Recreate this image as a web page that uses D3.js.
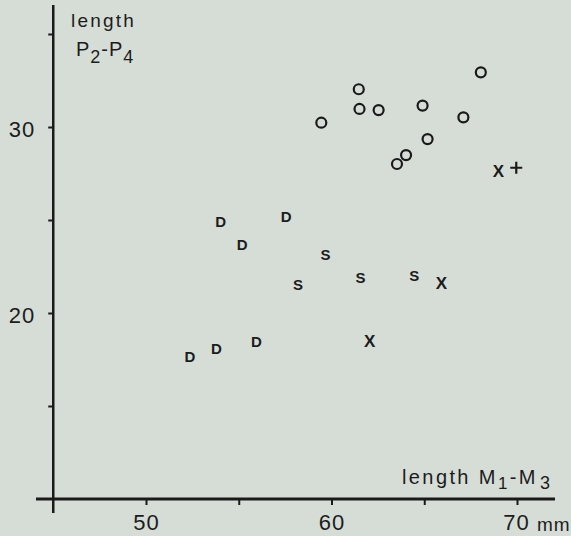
<!DOCTYPE html>
<html>
<head>
<meta charset="utf-8">
<script src="https://cdn.jsdelivr.net/npm/d3@7"></script>
<style>
  html, body { margin: 0; padding: 0; background: #d6ddd7; }
  svg { display: block; }
  text { font-family: "Liberation Sans", Arial, sans-serif; fill: #1c1c1c; }
</style>
</head>
<body>
<svg id="chart" width="571" height="536"></svg>
<script>
// ---- data (length M1-M3 in mm, length P2-P4 in mm) ----
const circleX = [68.05, 61.47, 61.51, 62.54, 59.45, 64.91, 67.11, 65.18, 64.02, 63.53];
const circleY = [32.94, 32.03, 30.97, 30.91, 30.23, 31.15, 30.52, 29.35, 28.49, 28.01];

const dX = [54.02, 57.56, 55.18, 55.95, 53.80, 52.37];
const dY = [24.91, 25.18, 23.66, 18.46, 18.10, 17.65];

const sX = [59.68, 58.19, 61.56, 64.46];
const sY = [23.12, 21.54, 21.90, 22.04];

const xX = [69.00, 65.93, 62.06];
const xY = [27.60, 21.60, 18.46];

const plusX = [69.96];
const plusY = [27.81];

const xTicks = [50, 55, 60, 65, 70];
const xTickLabels = ["50", "", "60", "", "70"];
const yTicks = [15, 20, 25, 30, 35];
const yTickLabels = ["", "20", "", "30", ""];
const xUnit = "mm";

// ---- layout ----
const svg = d3.select("#chart");
const x = d3.scaleLinear().domain([50, 70]).range([146, 517]);
const y = d3.scaleLinear().domain([20, 30]).range([313, 127]);
const xLo = 44.07, xHi = 72.05, yLo = 9.25, yHi = 36.56;
const crossX = 45, crossY = 10;
const ink = "#1a1a1a";

// axes lines
svg.append("line")
  .attr("x1", x(xLo)).attr("x2", x(xHi))
  .attr("y1", y(crossY)).attr("y2", y(crossY))
  .attr("stroke", ink).attr("stroke-width", 3);
svg.append("line")
  .attr("x1", x(crossX)).attr("x2", x(crossX))
  .attr("y1", y(yHi)).attr("y2", y(yLo))
  .attr("stroke", ink).attr("stroke-width", 2.5);

// x axis ticks via d3.axisBottom
const xAxis = d3.axisBottom(x)
  .tickValues(xTicks)
  .tickSize(6)
  .tickPadding(9)
  .tickFormat((d, i) => xTickLabels[i]);
const gx = svg.append("g")
  .attr("transform", `translate(0,${y(crossY)})`)
  .call(xAxis);
gx.select(".domain").remove();
gx.selectAll(".tick line").attr("stroke", ink).attr("stroke-width", 2);
gx.selectAll(".tick text")
  .style("font-family", '"Liberation Sans", Arial, sans-serif')
  .style("font-size", "22px")
  .style("letter-spacing", "1px")
  .attr("fill", ink);
gx.selectAll(".tick").filter(d => d === 70).select("text")
  .attr("dx", -1);

// unit "mm"
svg.append("text")
  .attr("x", x(70) + 20)
  .attr("y", y(crossY) + 32)
  .style("font-size", "19px")
  .style("letter-spacing", "1px")
  .text(xUnit);

// y axis ticks via d3.axisLeft
const yAxis = d3.axisLeft(y)
  .tickValues(yTicks)
  .tickSize(5)
  .tickPadding(13)
  .tickFormat((d, i) => yTickLabels[i]);
const gy = svg.append("g")
  .attr("transform", `translate(${x(crossX)},0)`)
  .call(yAxis);
gy.select(".domain").remove();
gy.selectAll(".tick line").attr("stroke", ink).attr("stroke-width", 2);
gy.selectAll(".tick text")
  .style("font-family", '"Liberation Sans", Arial, sans-serif')
  .style("font-size", "22px")
  .style("letter-spacing", "1px")
  .attr("fill", ink)
  .attr("dy", "0.45em");

// axis titles
const yt = svg.append("text")
  .attr("x", 71).attr("y", 27)
  .style("font-size", "19px")
  .style("letter-spacing", "2.2px");
yt.append("tspan").text("length");
const yt2 = svg.append("text")
  .attr("x", 76).attr("y", 56)
  .style("font-size", "20px")
  .style("letter-spacing", "1px");
yt2.append("tspan").text("P");
yt2.append("tspan").attr("dy", 7).style("font-size", "18px").text("2");
yt2.append("tspan").attr("dy", -7).text("-P");
yt2.append("tspan").attr("dy", 7).style("font-size", "18px").text("4");

const xt = svg.append("text")
  .attr("x", 402).attr("y", 484)
  .style("font-size", "20px")
  .style("letter-spacing", "2.4px");
xt.append("tspan").text("length M");
xt.append("tspan").attr("dy", 5).style("font-size", "17px").text("1");
xt.append("tspan").attr("dy", -5).text("-M");
xt.append("tspan").attr("dy", 5).attr("dx", 2).style("font-size", "18px").text("3");

// ---- marks ----
const zip = (a, b) => a.map((v, i) => [v, b[i]]);

svg.append("g").selectAll("circle")
  .data(zip(circleX, circleY))
  .join("circle")
  .attr("cx", d => x(d[0])).attr("cy", d => y(d[1]))
  .attr("r", 5)
  .attr("fill", "none").attr("stroke", ink).attr("stroke-width", 2.2);

function letters(xs, ys, ch, size) {
  svg.append("g").selectAll("text")
    .data(zip(xs, ys))
    .join("text")
    .attr("x", d => x(d[0])).attr("y", d => y(d[1]))
    .attr("text-anchor", "middle")
    .attr("dominant-baseline", "central")
    .style("font-size", size + "px")
    .style("font-weight", "bold")
    .text(ch);
}
letters(dX, dY, "D", 15);
letters(sX, sY, "S", 15);
letters(xX, xY, "X", 17);

svg.append("g").selectAll("path")
  .data(zip(plusX, plusY))
  .join("path")
  .attr("d", d => {
    const cx = x(d[0]), cy = y(d[1]), r = 6;
    return `M${cx - r},${cy}H${cx + r}M${cx},${cy - r}V${cy + r}`;
  })
  .attr("stroke", ink).attr("stroke-width", 2.2).attr("fill", "none");
</script>
</body>
</html>
